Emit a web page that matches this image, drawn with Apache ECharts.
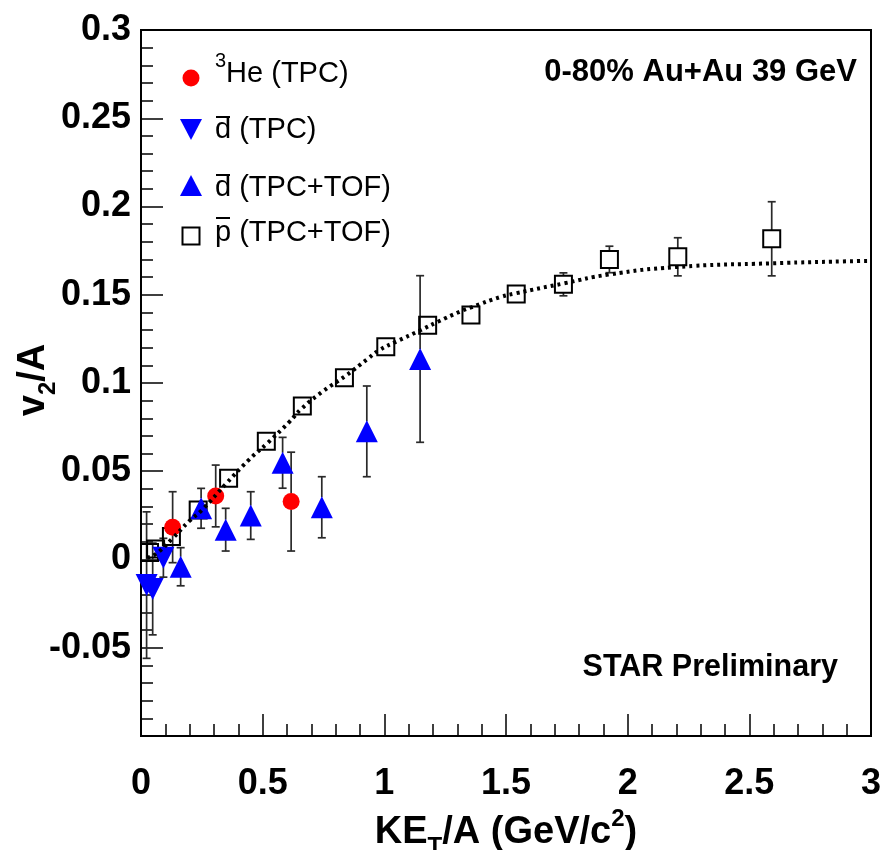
<!DOCTYPE html>
<html><head><meta charset="utf-8">
<script src="https://cdn.jsdelivr.net/npm/echarts@6/dist/echarts.min.js"></script>
<style>html,body{margin:0;padding:0;background:#fff}#c{width:883px;height:850px}</style>
</head><body><div id="c"></div>
<script>
// ---- data ----
const xTicks = [0, 0.5, 1, 1.5, 2, 2.5, 3];
const yTicks = [-0.05, 0, 0.05, 0.1, 0.15, 0.2, 0.25, 0.3];

// pbar (TPC+TOF), open squares
const pbarX   = [0.035, 0.06, 0.125, 0.235, 0.36, 0.515, 0.663, 0.836, 1.006, 1.178, 1.356, 1.542, 1.736, 1.925, 2.206, 2.592];
const pbarY   = [0.004, 0.006, 0.013, 0.028, 0.046, 0.067, 0.087, 0.103, 0.1205, 0.1327, 0.1385, 0.1504, 0.1559, 0.170, 0.1715, 0.1817];
const pbarErr = [0.003, 0.003, 0.004, 0.003, 0.003, 0.003, 0.003, 0.003, 0.003, 0.003, 0.003, 0.003, 0.0065, 0.0075, 0.0108, 0.021];

// dbar (TPC), down triangles
const dTpcX   = [0.023, 0.048, 0.092];
const dTpcY   = [-0.0145, -0.0167, 0.001];
const dTpcErr = [0.0415, 0.026, 0.011];

// dbar (TPC+TOF), up triangles
const dTofX   = [0.163, 0.247, 0.348, 0.451, 0.582, 0.743, 0.928, 1.147];
const dTofY   = [-0.0041, 0.029, 0.0169, 0.0249, 0.0548, 0.0296, 0.0726, 0.1136];
const dTofErr = [0.0108, 0.0113, 0.0121, 0.0135, 0.0144, 0.0173, 0.0257, 0.0472];

// 3He (TPC), red circles
const heX   = [0.130, 0.307, 0.617];
const heY   = [0.0183, 0.036, 0.0328];
const heErr = [0.0201, 0.0175, 0.028];

// fit curve (dotted)
const fitX = [0.025, 0.06, 0.13, 0.2, 0.25, 0.35, 0.44, 0.52, 0.61, 0.66, 0.75, 0.84, 0.93, 0.98, 1.05, 1.15, 1.22, 1.31, 1.36, 1.475, 1.54, 1.74, 1.92, 2.2, 2.59, 2.95, 3.0];
const fitY = [0.001, 0.003, 0.012, 0.022, 0.028, 0.043, 0.056, 0.066, 0.078, 0.0855, 0.0955, 0.104, 0.1135, 0.1187, 0.1235, 0.130, 0.1347, 0.1404, 0.143, 0.1486, 0.1508, 0.1565, 0.1614, 0.1657, 0.1678, 0.1691, 0.1692];

// ---- build ----
const zip3 = (a, b, c) => a.map((v, i) => [v, b[i], c[i]]);
const FONT = '"Liberation Sans", Arial, Helvetica, sans-serif';

function errRender(half) {
  return function (params, api) {
    const x = api.value(0), y = api.value(1), e = api.value(2);
    const c = api.coord([x, y]);
    const t = api.coord([x, y + e]);
    const b = api.coord([x, y - e]);
    const cap = 4;
    const st = { stroke: '#2a2a2a', lineWidth: 1.7 };
    const ch = [];
    if (c[1] - half > t[1] + 0.5) {
      ch.push({ type: 'line', shape: { x1: c[0], y1: t[1], x2: c[0], y2: c[1] - half }, style: st });
      ch.push({ type: 'line', shape: { x1: c[0] - cap, y1: t[1], x2: c[0] + cap, y2: t[1] }, style: st });
    }
    if (b[1] > c[1] + half + 0.5) {
      ch.push({ type: 'line', shape: { x1: c[0], y1: c[1] + half, x2: c[0], y2: b[1] }, style: st });
      ch.push({ type: 'line', shape: { x1: c[0] - cap, y1: b[1], x2: c[0] + cap, y2: b[1] }, style: st });
    }
    return { type: 'group', children: ch };
  };
}

function errSeries(data, half) {
  return { type: 'custom', data: data, renderItem: errRender(half), encode: { x: 0, y: 1 }, clip: false, silent: true };
}

const fmt = v => {
  if (Math.abs(v + 0.1) < 1e-9) return '';
  const r = Math.round(v * 100) / 100;
  return String(r);
};

const chart = echarts.init(document.getElementById('c'), null, { renderer: 'canvas' });

const richTitle = {
  sub: { fontFamily: FONT, fontWeight: 'bold', fontSize: 24, lineHeight: 24, verticalAlign: 'bottom', color: '#000', fill: '#000' },
  sup: { fontFamily: FONT, fontWeight: 'bold', fontSize: 24, lineHeight: 24, verticalAlign: 'top', color: '#000', fill: '#000' },
  n: { fontFamily: FONT, fontWeight: 'bold', fontSize: 38, lineHeight: 52, color: '#000', fill: '#000' }
};

const axisCommon = {
  type: 'value',
  axisLine: { show: true, onZero: false, lineStyle: { color: '#000', width: 2 } },
  axisTick: { show: true, inside: true, length: 22, lineStyle: { color: '#000', width: 1.5 } },
  minorTick: { show: true, splitNumber: 5, length: 12, lineStyle: { color: '#000', width: 1.5 } },
  splitLine: { show: false },
  minorSplitLine: { show: false },
  axisLabel: { color: '#000', fontFamily: FONT, fontWeight: 'bold', fontSize: 36 },
  nameLocation: 'middle',
  nameTextStyle: { color: '#000', fontFamily: FONT, fontWeight: 'bold', fontSize: 38, lineHeight: 52, rich: richTitle }
};

// legend built as graphic elements
const LX = 191, TX = 215;
const legendRows = [77, 128, 187, 236];
const legendFont = { fontFamily: FONT, fontSize: 29, fill: '#000' };
const graphics = [
  { type: 'circle', shape: { cx: LX, cy: legendRows[0] + 1, r: 8.5 }, style: { fill: '#ff0000' } },
  { type: 'polygon', shape: { points: [[LX - 11, legendRows[1] - 9], [LX + 11, legendRows[1] - 9], [LX, legendRows[1] + 12]] }, style: { fill: '#0000ff' } },
  { type: 'polygon', shape: { points: [[LX - 11, legendRows[2] + 9], [LX + 11, legendRows[2] + 9], [LX, legendRows[2] - 12]] }, style: { fill: '#0000ff' } },
  { type: 'rect', shape: { x: LX - 8.5, y: legendRows[3] - 8.5, width: 17, height: 17 }, style: { fill: 'none', stroke: '#000', lineWidth: 2 } },
  { type: 'text', left: TX, top: legendRows[0] - 26, style: {
      text: '{s|3}{t|He (TPC)}', rich: { s: { fontFamily: FONT, fontSize: 20, verticalAlign: 'top', lineHeight: 20, fill: '#000' }, t: { fontFamily: FONT, fontSize: 29, lineHeight: 46, fill: '#000' } } } },
  { type: 'text', left: TX, top: legendRows[1] - 13, style: Object.assign({ text: 'd (TPC)' }, legendFont) },
  { type: 'text', left: TX, top: legendRows[2] - 14, style: Object.assign({ text: 'd (TPC+TOF)' }, legendFont) },
  { type: 'text', left: TX, top: legendRows[3] - 18, style: Object.assign({ text: 'p (TPC+TOF)' }, legendFont) },
  // overbars
  { type: 'line', shape: { x1: TX + 1, y1: legendRows[1] - 11, x2: TX + 15, y2: legendRows[1] - 11 }, style: { stroke: '#000', lineWidth: 2 } },
  { type: 'line', shape: { x1: TX + 1, y1: legendRows[2] - 12, x2: TX + 15, y2: legendRows[2] - 12 }, style: { stroke: '#000', lineWidth: 2 } },
  { type: 'line', shape: { x1: TX + 1, y1: legendRows[3] - 18, x2: TX + 15, y2: legendRows[3] - 18 }, style: { stroke: '#000', lineWidth: 2 } },
  // y-axis title
  { type: 'text', x: 34, y: 380, rotation: Math.PI / 2,
    style: { text: '{n|v}{sub|2}{n|/A}', rich: richTitle, align: 'center', verticalAlign: 'middle', fill: '#000' } },
  // annotations
  { type: 'text', right: 26, top: 57, style: { text: '0-80% Au+Au 39 GeV', fontFamily: FONT, fontWeight: 'bold', fontSize: 31, fill: '#000' } },
  { type: 'text', right: 45, top: 652, style: { text: 'STAR Preliminary', fontFamily: FONT, fontWeight: 'bold', fontSize: 30.5, fill: '#000' } }
];

chart.setOption({
  animation: false,
  backgroundColor: '#fff',
  grid: { left: 141, right: 12, top: 30, bottom: 114, containLabel: false, outerBoundsMode: 'none',
          show: true, borderColor: '#000', borderWidth: 2, backgroundColor: 'transparent' },
  xAxis: Object.assign({}, axisCommon, {
    min: 0, max: 3, interval: 0.5,
    axisLabel: Object.assign({}, axisCommon.axisLabel, { margin: 30, formatter: fmt }),
    name: '{n|KE}{sub|T}{n|/A (GeV/c}{sup|2}{n|)}',
    nameGap: 70
  }),
  yAxis: Object.assign({}, axisCommon, {
    min: -0.1, max: 0.3, interval: 0.05,
    axisLabel: Object.assign({}, axisCommon.axisLabel, { margin: 10, formatter: fmt })
  }),
  graphic: graphics,
  series: [
    errSeries(zip3(pbarX, pbarY, pbarErr), 8.5),
    { type: 'scatter', data: pbarX.map((x, i) => [x, pbarY[i]]), symbol: 'rect', symbolSize: 17, clip: false,
      itemStyle: { color: 'rgba(0,0,0,0)', borderColor: '#000', borderWidth: 2, opacity: 1 } },
    { type: 'line', data: fitX.map((x, i) => [x, fitY[i]]), smooth: true, showSymbol: false, clip: true,
      lineStyle: { color: '#000', width: 4, type: [3, 4] } },
    errSeries(zip3(dTpcX, dTpcY, dTpcErr), 9),
    { type: 'scatter', data: dTpcX.map((x, i) => [x, dTpcY[i]]), symbol: 'triangle', symbolRotate: 180, symbolSize: [22, 22], clip: false,
      itemStyle: { color: '#0000ff', opacity: 1 } },
    errSeries(zip3(dTofX, dTofY, dTofErr), 10),
    { type: 'scatter', data: dTofX.map((x, i) => [x, dTofY[i]]), symbol: 'triangle', symbolSize: [22, 22], clip: false,
      itemStyle: { color: '#0000ff', opacity: 1 } },
    errSeries(zip3(heX, heY, heErr), 8),
    { type: 'scatter', data: heX.map((x, i) => [x, heY[i]]), symbol: 'circle', symbolSize: 17, clip: false,
      itemStyle: { color: '#ff0000', opacity: 1 } }
  ]
});
</script></body></html>
